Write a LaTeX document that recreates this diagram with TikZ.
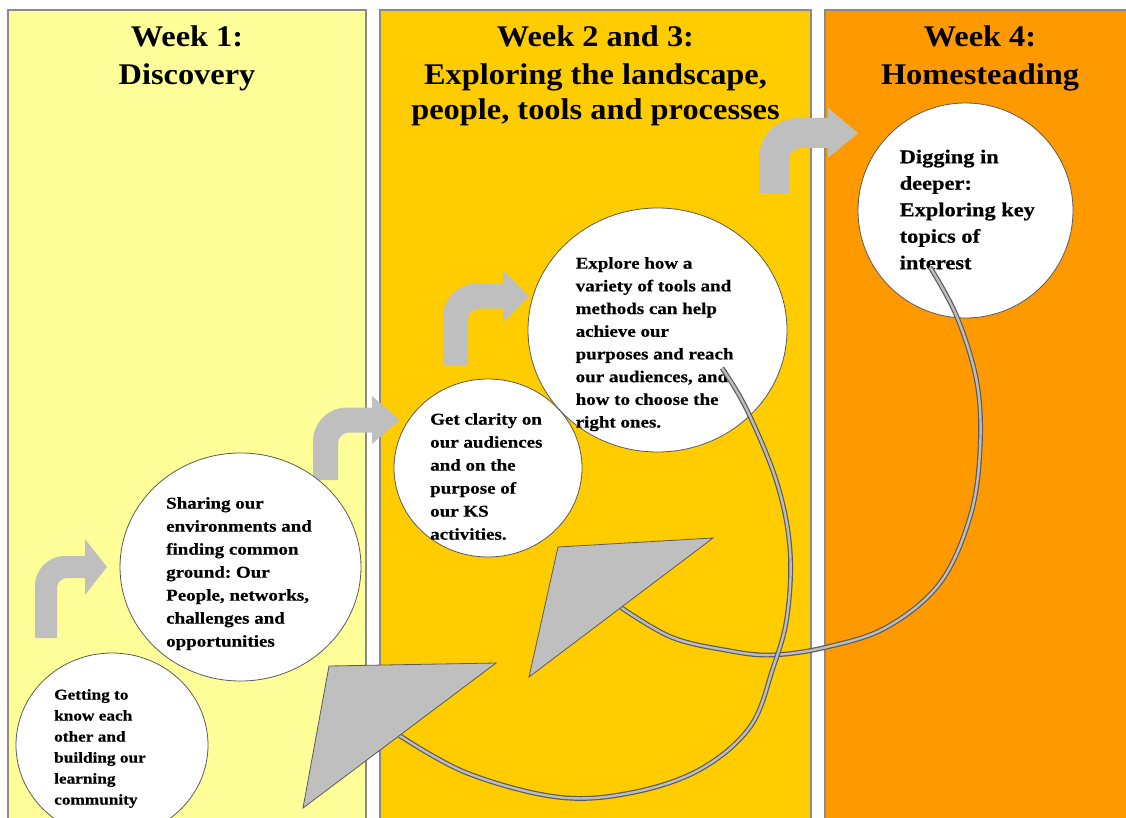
\documentclass[tikz,border=0pt]{standalone}
\usepackage{fontspec}
\setmainfont{Liberation Serif}
\newfontfamily\titlefont{Liberation Serif}[FakeStretch=1.08]
\newfontfamily\circfont{Liberation Serif}[FakeStretch=1.15, BoldFeatures={FakeBold=0.5}]
\usetikzlibrary{shapes.geometric}
\frenchspacing
\definecolor{pone}{HTML}{FFFF99}
\definecolor{ptwo}{HTML}{FFCC00}
\definecolor{pthree}{HTML}{FF9900}
\definecolor{arrowgray}{HTML}{BFBFBF}
\definecolor{edgegray}{HTML}{8A8A8A}
\definecolor{ringedge}{HTML}{5A5A5A}
\definecolor{bandedge}{HTML}{5A5A5A}
\definecolor{bandfill}{HTML}{BDBDBD}
% bent arrow: L, w, B, C, Ro, Hx, h, T, Ri
\newcommand{\bentarrow}[9]{%
  \fill[arrowgray] (#1,#3) -- (#1,{#4-#2/2+#5})
    arc[start angle=180,end angle=270,radius=#5]
    -- (#6,{#4-#2/2}) -- (#6,{#4-#7}) -- (#8,#4) -- (#6,{#4+#7})
    -- (#6,{#4+#2/2}) -- ({#1+#2+#9},{#4+#2/2})
    arc[start angle=270,end angle=180,radius=#9]
    -- ({#1+#2},#3) -- cycle;}
\tikzset{
  panel/.style={draw=edgegray, line width=1.2pt},
  wtitle/.style={font=\titlefont\bfseries\fontsize{30}{38.5}\selectfont, align=center, inner sep=0pt, anchor=north},
  ring/.style={ellipse, draw=ringedge, line width=0.8pt, fill=white, inner sep=0pt},
  ctext/.style={align=left, inner sep=0pt, anchor=north west},
  band/.style={draw=bandedge, double=bandfill, double distance=2.4pt, line width=1.2pt},
  tri/.style={fill=arrowgray, draw=ringedge, line width=0.8pt, line join=miter}
}
\begin{document}
\begin{tikzpicture}[x=1pt,y=-1pt]
\useasboundingbox (0,0) rectangle (1126,818);
\clip (0,0) rectangle (1126,818);
\fill[white] (0,0) rectangle (1126,818);
% panels
\filldraw[panel, fill=pone] (8,10) rectangle (366,840);
\filldraw[panel, fill=ptwo] (380,10) rectangle (811,840);
\filldraw[panel, fill=pthree] (825,10) rectangle (1150,840);
% titles
\node (t1) [wtitle] at (187,25) {Week 1:\\Discovery};
\node (t2) [wtitle] at (595.5,25) {Week 2 and 3:\\Exploring the landscape,\\[-4pt]people, tools and processes};
\node (t3) [wtitle] at (980,25) {Week 4:\\Homesteading};
% bent arrows
\bentarrow{35}{22}{638}{567}{30}{85}{28}{107}{10}
\bentarrow{313}{25}{480}{420}{34}{372}{24}{400}{11}
\bentarrow{443}{25}{365}{296}{34}{503}{26}{529}{11}
\bentarrow{759}{30}{193}{133}{40}{828}{25}{858}{12}
% circles
\node (cget) [ring, minimum width=192pt, minimum height=184pt] at (112,745) {};
\node (cshare) [ring, minimum width=241pt, minimum height=228pt] at (240.5,567) {};
\node (cclar) [ring, minimum width=188pt, minimum height=178pt] at (488,468) {};
\node (cexpl) [ring, minimum width=259pt, minimum height=244pt] at (657.5,330) {};
\node (cdig) [ring, minimum width=215pt, minimum height=215pt] at (965.5,210.5) {};
% circle texts
\node (xget) [ctext, font=\circfont\bfseries\fontsize{15}{21}\selectfont] at (54,689)
  {Getting to\\know each\\other and\\building our\\learning\\community};
\node (xshare) [ctext, font=\circfont\bfseries\fontsize{16.5}{23}\selectfont] at (166,497)
  {Sharing our\\environments and\\finding common\\ground: Our\\People, networks,\\challenges and\\opportunities};
\node (xclar) [ctext, font=\circfont\bfseries\fontsize{16.5}{23}\selectfont] at (430,413)
  {Get clarity on\\our audiences\\and on the\\purpose of\\our KS\\activities.};
\node (xexpl) [ctext, font=\circfont\bfseries\fontsize{16.5}{22.7}\selectfont] at (575.5,257)
  {Explore how a\\variety of tools and\\methods can help\\achieve our\\purposes and reach\\our audiences, and\\how to choose the\\right ones.};
\node (xdig) [ctext, font=\circfont\bfseries\fontsize{19.5}{26.5}\selectfont] at (899.5,149.5)
  {Digging in\\deeper:\\Exploring key\\topics of\\interest};
% curved connectors
\coordinate (a2s) at (930,267);
\coordinate (a2e) at (621,607.5);
\coordinate (a1s) at (722,368);
\coordinate (a1e) at (399.5,735.5);
\draw[band] plot[smooth, tension=0.6] coordinates {(a2s) (957,317) (977,383) (980,450) (970,517) (940,583) (887,627) (827,647) (771,655) (725,650) (671,637) (a2e)};
\draw[band] plot[smooth, tension=0.6] coordinates {(a1s) (747,410) (777,483) (790,550) (787,617) (773,668) (750,727) (699,770) (630,793) (557,797) (467,773) (a1e)};
% arrowheads
\coordinate (h2a) at (529,677);
\coordinate (h2b) at (558,547);
\coordinate (h2c) at (713,538);
\filldraw[tri] (h2a) -- (h2b) -- (h2c) -- cycle;
\coordinate (h1a) at (303,808);
\coordinate (h1b) at (329,666);
\coordinate (h1c) at (496,663);
\filldraw[tri] (h1a) -- (h1b) -- (h1c) -- cycle;
\end{tikzpicture}
\end{document}
